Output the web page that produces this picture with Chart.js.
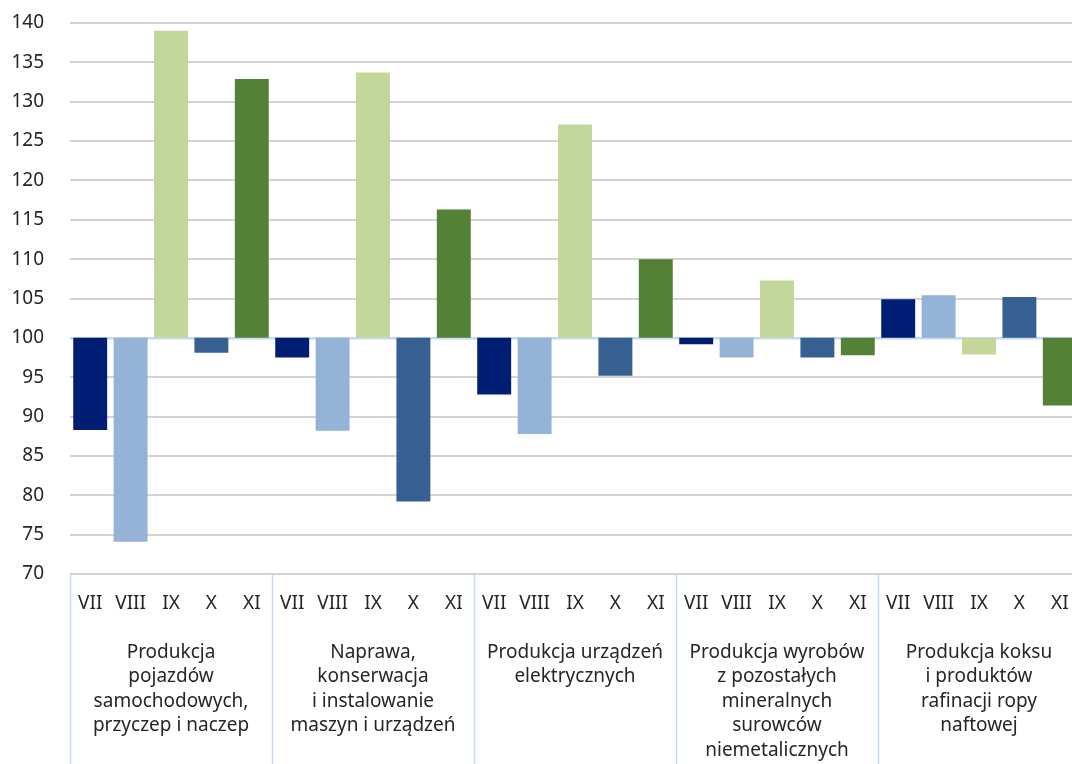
<!DOCTYPE html>
<html>
<head>
<meta charset="utf-8">
<script src="https://cdn.jsdelivr.net/npm/chart.js@4/dist/chart.umd.min.js"></script>
<style>
  html, body { margin: 0; padding: 0; background: #fff; overflow: hidden; }
  #wrap { width: 1082px; height: 764px; position: relative; }
</style>
</head>
<body>
<div id="wrap"><canvas id="chart"></canvas></div>
<script>
// group names (multi-line as in the original)
const groups = [
  ['Produkcja', 'pojazdów', 'samochodowych,', 'przyczep i naczep'],
  ['Naprawa,', 'konserwacja', 'i instalowanie', 'maszyn i urządzeń'],
  ['Produkcja urządzeń', 'elektrycznych'],
  ['Produkcja wyrobów', 'z pozostałych', 'mineralnych', 'surowców', 'niemetalicznych'],
  ['Produkcja koksu', 'i produktów', 'rafinacji ropy', 'naftowej']
];
const months = ['VII', 'VIII', 'IX', 'X', 'XI'];

// index values per month, one per group (base = 100)
const vii  = [88.3, 97.5, 92.8, 99.2, 104.9];
const viii = [74.1, 88.2, 87.8, 97.5, 105.4];
const ix   = [139.0, 133.7, 127.1, 107.3, 97.9];
const x    = [98.1, 79.2, 95.2, 97.5, 105.2];
const xi   = [132.9, 116.3, 110.0, 97.8, 91.4];
const series = [vii, viii, ix, x, xi];

const base = 100;
const yMin = 70, yMax = 140, yStep = 5;

const colors = ['#001f74', '#95b3d7', '#c4d79b', '#366092', '#538135'];
const FONT = "'Noto Sans', 'Open Sans', sans-serif";

const monthLabels = {
  id: 'monthLabels',
  afterDraw(chart) {
    const ctx = chart.ctx;
    const xs = chart.scales.x;
    const area = chart.chartArea;
    ctx.save();
    ctx.font = '19px ' + FONT;
    ctx.fillStyle = '#262626';
    ctx.textAlign = 'center';
    ctx.textBaseline = 'middle';
    chart.data.datasets.forEach((ds, i) => {
      chart.getDatasetMeta(i).data.forEach(bar => {
        ctx.fillText(ds.label, bar.x, area.bottom + 30);
      });
    });
    // group separators
    const half = (xs.getPixelForValue(1) - xs.getPixelForValue(0)) / 2;
    ctx.strokeStyle = '#c6d9f0';
    ctx.lineWidth = 1.5;
    for (let i = 0; i <= groups.length; i++) {
      const px = Math.round(xs.getPixelForValue(0) - half + i * 2 * half) + 0.5;
      ctx.beginPath();
      ctx.moveTo(px, area.bottom + 1);
      ctx.lineTo(px, chart.height);
      ctx.stroke();
    }
    ctx.restore();
  }
};

new Chart(document.getElementById('chart'), {
  type: 'bar',
  data: {
    labels: groups,
    datasets: months.map((m, i) => ({
      label: m,
      data: series[i].map(v => [base, v]),
      backgroundColor: colors[i],
      borderWidth: 0
    }))
  },
  options: {
    responsive: true,
    maintainAspectRatio: false,
    animation: false,
    layout: { padding: { top: 23, left: 0, right: 2, bottom: 0 } },
    datasets: { bar: { categoryPercentage: 1.0, barPercentage: 0.84 } },
    plugins: {
      legend: { display: false },
      tooltip: { enabled: false }
    },
    scales: {
      x: {
        grid: { display: false },
        border: { display: false },
        ticks: {
          autoSkip: false,
          maxRotation: 0,
          padding: 58,
          color: '#262626',
          font: { family: FONT, size: 19, lineHeight: 1.29 }
        },
        afterFit(scale) {
          scale.height = 190;
          scale.paddingLeft = 0;
          scale.paddingRight = 0;
        }
      },
      y: {
        min: yMin,
        max: yMax,
        ticks: {
          stepSize: yStep,
          padding: 26,
          color: '#262626',
          font: { family: FONT, size: 19 }
        },
        border: { display: false },
        grid: {
          drawTicks: false,
          color: ctx => ctx.tick && ctx.tick.value === base ? '#c6d9f0' : '#d3d3d3',
          lineWidth: ctx => ctx.tick && ctx.tick.value === base ? 2.5 : 2
        },
        afterFit(scale) {
          scale.width = 70;
          scale.paddingTop = 0;
          scale.paddingBottom = 0;
        }
      }
    }
  },
  plugins: [monthLabels]
});
</script>
</body>
</html>
